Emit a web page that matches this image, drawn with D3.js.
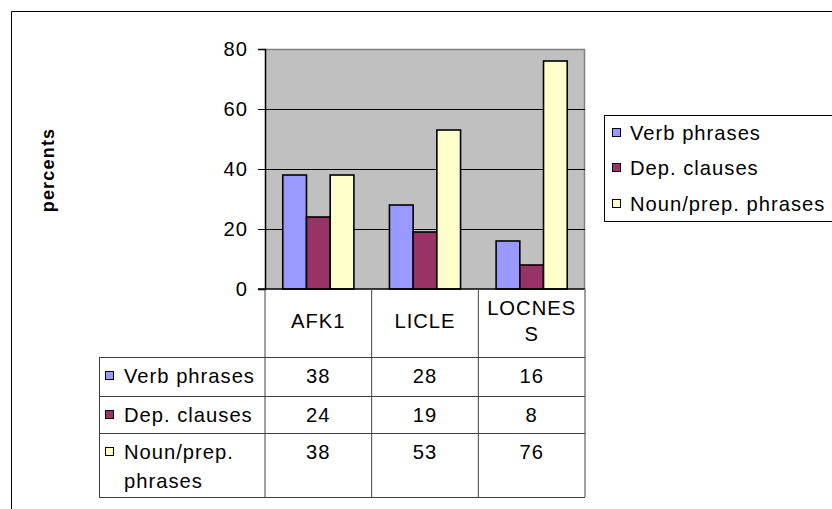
<!DOCTYPE html>
<html>
<head>
<meta charset="utf-8">
<script src="https://cdn.jsdelivr.net/npm/d3@7/dist/d3.min.js"></script>
<style>
  body { margin: 0; background: #fff; }
  svg { display: block; font-family: "Liberation Sans", Arial, sans-serif; }
</style>
</head>
<body>
<svg id="chart" width="832" height="509"></svg>
<script>
// Share of constructions per corpus (percent)
const categories = ["AFK1", "LICLE", "LOCNESS"];
const categoryLabelLines = [["AFK1"], ["LICLE"], ["LOCNES", "S"]];
const seriesNames = ["Verb phrases", "Dep. clauses", "Noun/prep. phrases"];
const seriesLabelLines = [["Verb phrases"], ["Dep. clauses"], ["Noun/prep.", "phrases"]];
const verbPhrases = [38, 28, 16];
const depClauses = [24, 19, 8];
const nounPrepPhrases = [38, 53, 76];
const seriesColors = ["#9999FF", "#993366", "#FFFFCC"];
const yTicks = [0, 20, 40, 60, 80];

const seriesValues = [verbPhrases, depClauses, nounPrepPhrases];

const svg = d3.select("#chart");
const fontSize = 20.2;
const spacing = 1;

// chart frame
svg.append("path")
  .attr("d", "M11.5,520 V11.5 H840")
  .attr("fill", "none").attr("stroke", "#000").attr("stroke-width", 1);

// plot area geometry
const plot = { left: 265, right: 585, top: 49, bottom: 289 };

const x0 = d3.scaleBand().domain(categories).range([plot.left, plot.right]).padding(0);
const barW = x0.bandwidth() / 4.5;   // gap width = 150% of a bar
const x1 = d3.scaleBand().domain(seriesNames)
  .range([barW * 0.75, x0.bandwidth() - barW * 0.75]).padding(0);
const y = d3.scaleLinear().domain([0, 80]).range([plot.bottom, plot.top]);

svg.append("rect")
  .attr("x", plot.left).attr("y", plot.top)
  .attr("width", plot.right - plot.left).attr("height", plot.bottom - plot.top)
  .attr("fill", "#C0C0C0");

// plot border (top and right grey)
svg.append("path")
  .attr("d", `M${plot.left},${plot.top + 0.5} H${plot.right - 0.5} V${plot.bottom}`)
  .attr("fill", "none").attr("stroke", "#808080").attr("stroke-width", 1.5);

// gridlines
svg.append("g").selectAll("line")
  .data(yTicks.filter(t => t > 0 && t < 80))
  .join("line")
  .attr("x1", plot.left).attr("x2", plot.right)
  .attr("y1", d => Math.round(y(d)) + 0.5).attr("y2", d => Math.round(y(d)) + 0.5)
  .attr("stroke", "#000").attr("stroke-width", 1);

// bars
const groups = svg.append("g").selectAll("g")
  .data(categories)
  .join("g")
  .attr("transform", d => `translate(${x0(d)},0)`);

groups.selectAll("rect")
  .data((c, i) => seriesNames.map((s, j) => ({ s, j, v: seriesValues[j][i] })))
  .join("rect")
  .attr("x", d => x1(d.s))
  .attr("y", d => y(d.v))
  .attr("width", x1.bandwidth())
  .attr("height", d => y(0) - y(d.v))
  .attr("fill", d => seriesColors[d.j])
  .attr("stroke", "#000").attr("stroke-width", 1.6);

// y axis
const yAxis = d3.axisLeft(y).tickValues(yTicks).tickSize(7).tickPadding(10);
const gy = svg.append("g").attr("transform", `translate(${plot.left},0)`).call(yAxis);
gy.select(".domain").attr("stroke", "#000").attr("stroke-width", 1.5);
gy.selectAll(".tick line").attr("stroke", "#000");
gy.selectAll(".tick text")
  .attr("font-size", fontSize).attr("fill", "#000")
  .attr("font-family", "Liberation Sans, Arial, sans-serif")
  .attr("letter-spacing", spacing);

// zero line
svg.append("line")
  .attr("x1", plot.left - 7).attr("x2", plot.right)
  .attr("y1", y(0)).attr("y2", y(0))
  .attr("stroke", "#000").attr("stroke-width", 1.5);

// axis title
svg.append("text")
  .attr("transform", "translate(48,170) rotate(-90)")
  .attr("text-anchor", "middle").attr("dominant-baseline", "central")
  .attr("font-weight", "bold").attr("font-size", 18)
  .attr("letter-spacing", 1.2)
  .text("percents");

// data table
const table = { left: 99, headerBottom: 357, rowBottoms: [396, 433, 497] };
const lineColor = "#404040";
const tbl = svg.append("g");

const colEdges = [plot.left, ...categories.map(c => x0(c) + x0.bandwidth())];
colEdges.forEach((xv, i) => {
  tbl.append("line")
    .attr("x1", xv).attr("x2", xv)
    .attr("y1", plot.bottom).attr("y2", table.rowBottoms[2])
    .attr("stroke", i === colEdges.length - 1 ? "#808080" : lineColor)
    .attr("stroke-width", i === colEdges.length - 1 ? 1.5 : 1);
});
[table.headerBottom, ...table.rowBottoms].forEach(yv => {
  tbl.append("line")
    .attr("x1", table.left).attr("x2", plot.right)
    .attr("y1", yv + 0.5).attr("y2", yv + 0.5)
    .attr("stroke", lineColor).attr("stroke-width", 1);
});
tbl.append("line")
  .attr("x1", table.left + 0.5).attr("x2", table.left + 0.5)
  .attr("y1", table.headerBottom).attr("y2", table.rowBottoms[2])
  .attr("stroke", lineColor).attr("stroke-width", 1);

// category header labels
categories.forEach((c, i) => {
  const lines = categoryLabelLines[i];
  const cx = x0(c) + x0.bandwidth() / 2;
  const cy = (plot.bottom + table.headerBottom) / 2 - 2;
  const lh = 26;
  lines.forEach((t, k) => {
    tbl.append("text")
      .attr("x", cx).attr("y", cy + (k - (lines.length - 1) / 2) * lh)
      .attr("text-anchor", "middle").attr("dominant-baseline", "central")
      .attr("font-size", fontSize).attr("letter-spacing", spacing)
      .text(t);
  });
});

// series rows
const rowTops = [table.headerBottom, ...table.rowBottoms.slice(0, 2)];
seriesNames.forEach((s, j) => {
  const top = rowTops[j];
  const firstLineY = top + 19;
  tbl.append("rect")
    .attr("x", 105.5).attr("y", firstLineY - 4.5)
    .attr("width", 8).attr("height", 8)
    .attr("fill", seriesColors[j]).attr("stroke", "#000").attr("stroke-width", 1);
  seriesLabelLines[j].forEach((t, k) => {
    tbl.append("text")
      .attr("x", 124).attr("y", firstLineY + k * 29)
      .attr("dominant-baseline", "central")
      .attr("font-size", fontSize).attr("letter-spacing", spacing)
      .text(t);
  });
  categories.forEach((c, i) => {
    tbl.append("text")
      .attr("x", x0(c) + x0.bandwidth() / 2).attr("y", firstLineY)
      .attr("text-anchor", "middle").attr("dominant-baseline", "central")
      .attr("font-size", fontSize).attr("letter-spacing", spacing)
      .text(seriesValues[j][i]);
  });
});

// legend
const legend = svg.append("g");
legend.append("rect")
  .attr("x", 604.5).attr("y", 115.5).attr("width", 240).attr("height", 106)
  .attr("fill", "#fff").attr("stroke", "#000").attr("stroke-width", 1);
const legendYs = [133, 168, 204];
seriesNames.forEach((s, j) => {
  legend.append("rect")
    .attr("x", 612.5).attr("y", legendYs[j] - 4.5)
    .attr("width", 8).attr("height", 8)
    .attr("fill", seriesColors[j]).attr("stroke", "#000").attr("stroke-width", 1);
  legend.append("text")
    .attr("x", 630).attr("y", legendYs[j])
    .attr("dominant-baseline", "central")
    .attr("font-size", fontSize).attr("letter-spacing", spacing)
    .text(s);
});
</script>
</body>
</html>
